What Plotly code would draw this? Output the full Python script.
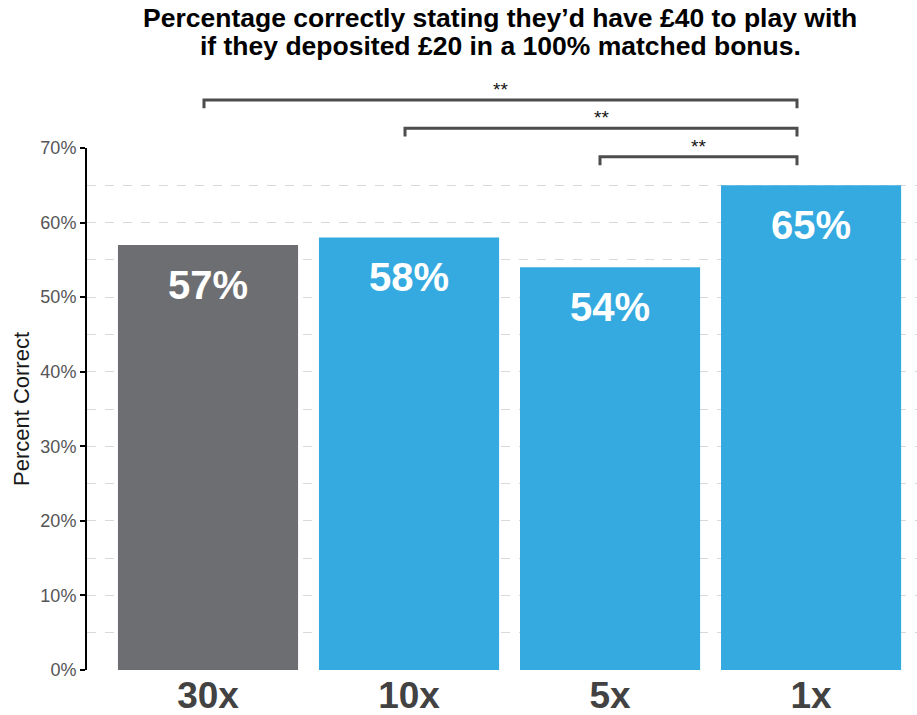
import plotly.graph_objects as go

# Data
categories = ["30x", "10x", "5x", "1x"]
percent_correct = [57, 58, 54, 65]
bar_colors = ["#6d6e71", "#35aae0", "#35aae0", "#35aae0"]
value_labels = ["57%", "58%", "54%", "65%"]

# Significance brackets: (left category index, right category index, label)
brackets = [(0, 3, "**"), (1, 3, "**"), (2, 3, "**")]
bracket_levels = [1.092, 1.038, 0.983]  # paper y of each bracket bar

y_ticks = [0, 10, 20, 30, 40, 50, 60, 70]
y_tick_text = ["0%", "10%", "20%", "30%", "40%", "50%", "60%", "70%"]

title_lines = [
    "Percentage correctly stating they\u2019d have \u00a340 to play with",
    "if they deposited \u00a320 in a 100% matched bonus.",
]

FONT = "Liberation Sans, Arial, sans-serif"

fig = go.Figure()
fig.add_trace(go.Bar(
    x=list(range(len(categories))),
    y=percent_correct,
    marker=dict(color=bar_colors, line=dict(width=0)),
    width=0.896,
    hoverinfo="skip",
))

# Value labels inside each bar, near the top
for i, (v, lab) in enumerate(zip(percent_correct, value_labels)):
    fig.add_annotation(
        x=i, y=v, xref="x", yref="y", text=f"<b>{lab}</b>",
        showarrow=False, yanchor="middle", yshift=-40,
        font=dict(family=FONT, size=40, color="white"),
    )

# Brackets with significance stars
tick_h = 0.016
for (a, b, star), lvl in zip(brackets, bracket_levels):
    xa = a - 0.02 if a < 2 else a - 0.05
    xb = b - 0.07
    fig.add_shape(
        type="path", xref="x", yref="paper",
        path=f"M {xa},{lvl - tick_h} L {xa},{lvl} L {xb},{lvl} L {xb},{lvl - tick_h}",
        line=dict(color="#4d4d4f", width=3),
    )
    fig.add_annotation(
        x=(xa + xb) / 2, y=lvl, xref="x", yref="paper", text=star,
        showarrow=False, yanchor="bottom", yshift=-2,
        font=dict(family=FONT, size=19, color="#111111"),
    )

# Chart heading, two centred lines
for line, ypos in zip(title_lines, [1.25, 1.196]):
    fig.add_annotation(
        xref="paper", yref="paper", x=0.4976, y=ypos,
        xanchor="center", yanchor="middle",
        text=f"<b>{line}</b>", showarrow=False,
        font=dict(family=FONT, size=26.5, color="#000000"),
    )

fig.update_layout(
    width=917, height=715,
    margin=dict(l=87, r=0, t=148, b=45),
    paper_bgcolor="white", plot_bgcolor="white",
    showlegend=False,
    xaxis=dict(
        range=[-0.602, 3.527], automargin=False,
        tickmode="array", tickvals=list(range(len(categories))),
        ticktext=[f"<b>{c}</b>" for c in categories],
        tickfont=dict(family=FONT, size=37, color="#424242"),
        ticklabelstandoff=0,
        showgrid=False, zeroline=False, showline=False, ticks="",
    ),
    yaxis=dict(
        range=[0, 70], automargin=False,
        tickmode="array", tickvals=y_ticks, ticktext=y_tick_text,
        tickfont=dict(family=FONT, size=18, color="#555555"),
        ticks="outside", ticklen=5, tickwidth=2, tickcolor="#000000",
        showline=True, linecolor="#000000", linewidth=2,
        showgrid=True, gridcolor="#d9d9d9", griddash="dash", gridwidth=1,
        minor=dict(dtick=5, tick0=0, showgrid=True, gridcolor="#d9d9d9",
                   griddash="dash", gridwidth=1, ticks=""),
        zeroline=False,
        title=dict(text="Percent Correct", standoff=5,
                   font=dict(family=FONT, size=22, color="#1a1a1a")),
    ),
)

fig.write_html("out.html")
